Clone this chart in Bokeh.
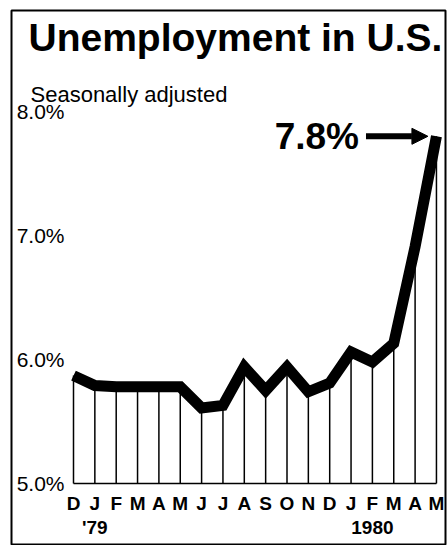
from bokeh.plotting import figure
from bokeh.models import (Range1d, FixedTicker, LinearAxis, Arrow,
                          NormalHead, PrintfTickFormatter)
from bokeh.core.properties import value
from bokeh.embed import file_html
from bokeh.resources import INLINE

# ---- data ----
months = ["D", "J", "F", "M", "A", "M", "J", "J", "A", "S", "O", "N",
          "D", "J", "F", "M", "A", "M"]
rates = [5.87, 5.79, 5.78, 5.78, 5.78, 5.78, 5.61, 5.63, 5.94, 5.75,
         5.94, 5.74, 5.81, 6.06, 5.98, 6.13, 6.91, 7.80]
y_ticks = [5.0, 6.0, 7.0, 8.0]
year_labels = {1: "'79", 14: "1980"}   # positions as printed under the months
title_text = "Unemployment in U.S."
subtitle_text = "Seasonally adjusted"

x = list(range(len(months)))
base = y_ticks[0]
n = len(months)

# ---- layout (pixels) ----
W, H = 447, 545
box_l, box_r, box_t, box_b = 11, 445, 10, 545     # outer ruled box = plot frame
first_px, px_per_month = 73, 21.35
base_px, px_per_pct = 483, 124.0

x_start = x[0] - (first_px - box_l) / px_per_month
x_end = x_start + (box_r - box_l) / px_per_month
y_start = base - (box_b - base_px) / px_per_pct
y_end = base + (base_px - box_t) / px_per_pct


def y_at(py):
    return base + (base_px - py) / px_per_pct


p = figure(width=W, height=H, output_backend="svg", toolbar_location=None,
           x_range=Range1d(x_start, x_end), y_range=Range1d(y_start, y_end),
           x_axis_location=None, y_axis_location=None, title_location=None,
           min_border_left=box_l, min_border_right=W - box_r,
           min_border_top=box_t, min_border_bottom=H - box_b)
p.outline_line_color = "black"
p.outline_line_width = 2
p.background_fill_color = "white"
p.border_fill_color = "white"
p.grid.visible = False

# title and subtitle (inside the ruled box)
p.text(x=[x_start], y=[y_at(37)], text=[title_text], x_offset=17,
       text_align="left", text_baseline="alphabetic",
       text_font=value("Liberation Sans"), text_font_style="bold",
       text_font_size="39px", text_color="black")
p.text(x=[x_start], y=[y_at(94)], text=[subtitle_text], x_offset=19,
       text_align="left", text_baseline="alphabetic",
       text_font=value("Liberation Sans"), text_font_style="normal",
       text_font_size="22px", text_color="black")

# y axis (percent labels)
yax = LinearAxis(ticker=FixedTicker(ticks=y_ticks),
                 formatter=PrintfTickFormatter(format="%.1f%%"),
                 fixed_location=x[0] - 4 / px_per_month)
yax.axis_line_color = None
yax.major_tick_line_color = None
yax.minor_tick_line_color = None
yax.major_tick_out = 0
yax.major_tick_in = 0
yax.major_label_standoff = 5
yax.major_label_text_font = "Liberation Sans"
yax.major_label_text_font_size = "21px"
yax.major_label_text_color = "black"
p.add_layout(yax, "left")

# x axis (months)
xax = LinearAxis(ticker=FixedTicker(ticks=x),
                 major_label_overrides={i: m for i, m in zip(x, months)},
                 fixed_location=base)
xax.axis_line_color = None
xax.major_tick_line_color = None
xax.minor_tick_line_color = None
xax.major_tick_out = 0
xax.major_tick_in = 0
xax.major_label_standoff = 9
xax.major_label_text_font = "Liberation Sans"
xax.major_label_text_font_style = "bold"
xax.major_label_text_font_size = "19px"
xax.major_label_text_color = "black"
p.add_layout(xax, "below")

# year labels
yr = LinearAxis(ticker=FixedTicker(ticks=list(year_labels)),
                major_label_overrides=year_labels, fixed_location=base)
yr.axis_line_color = None
yr.major_tick_line_color = None
yr.minor_tick_line_color = None
yr.major_tick_out = 0
yr.major_tick_in = 0
yr.major_label_standoff = 33
yr.major_label_text_font = "Liberation Sans"
yr.major_label_text_font_style = "bold"
yr.major_label_text_font_size = "19px"
yr.major_label_text_color = "black"
p.add_layout(yr, "below")

# drop lines and baseline
p.segment(x0=x, y0=[base] * n, x1=x, y1=rates, line_color="black",
          line_width=1.5)
p.segment(x0=[x[0]], y0=[base], x1=[x[-1]], y1=[base], line_color="black",
          line_width=1.5)

# thick data line
p.line(x, rates, line_color="black", line_width=11, line_join="miter",
       line_cap="butt")

# annotation: latest value with arrow
arrow_start = x[-1] - 3.3
p.add_layout(Arrow(end=NormalHead(size=16, fill_color="black",
                                  line_color="black"),
                   x_start=arrow_start, y_start=rates[-1],
                   x_end=x[-1] - 0.4, y_end=rates[-1],
                   line_color="black", line_width=6))
p.text(x=[arrow_start], y=[rates[-1]], text=[f"{rates[-1]:.1f}%"],
       x_offset=-7, text_align="right", text_baseline="middle",
       text_font=value("Liberation Sans"), text_font_style="bold",
       text_font_size="37px", text_color="black")

open("out.html", "w").write(file_html(p, INLINE))
